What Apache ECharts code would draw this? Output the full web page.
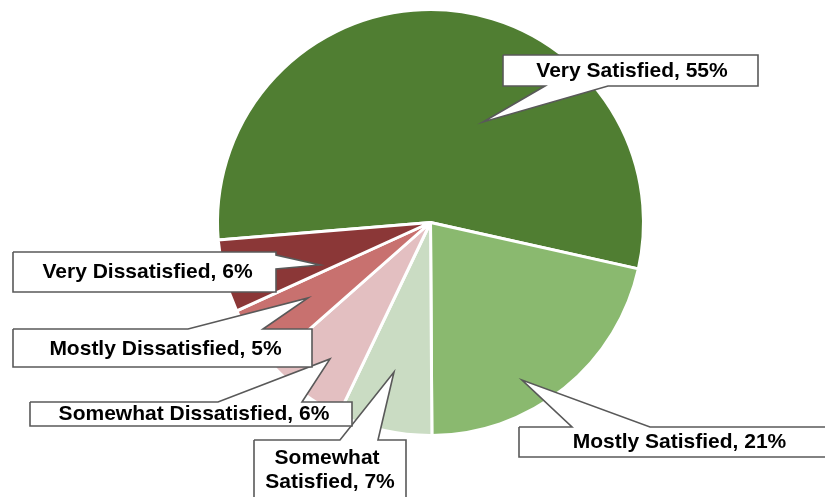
<!DOCTYPE html>
<html><head><meta charset="utf-8">
<script src="https://cdn.jsdelivr.net/npm/echarts@6/dist/echarts.min.js"></script>
<style>html,body{margin:0;padding:0;background:#fff}#c{width:825px;height:497px}</style>
</head><body><div id="c"></div>
<script>
// ---- data ----
const categories = ['Very Satisfied', 'Mostly Satisfied', 'Somewhat Satisfied', 'Somewhat Dissatisfied', 'Mostly Dissatisfied', 'Very Dissatisfied'];
const values = [54.8, 21.4, 7.2, 6.4, 4.7, 5.5];

// ---- styles ----
const colors = ['#507E32', '#8AB96F', '#CADCC3', '#E3BFC1', '#C8716F', '#8B3737'];
const wrapWidths = [null, null, 140, null, null, null];

// ---- callout annotation layout (px) ----
const callouts = [
  { text: [632, 71],    box: [503, 55, 758, 86],   side: 'bottom', base: [545, 608], tip: [483, 122] },
  { text: [679.5, 442], box: [519, 427, 842, 457], side: 'top',    base: [572, 650], tip: [522, 380] },
  { text: [330, 470],   box: [254, 440, 406, 502], side: 'top',    base: [340, 378], tip: [394, 372] },
  { text: [194, 414],   box: [30, 402, 352, 426],  side: 'top',    base: [218, 302], tip: [330, 359] },
  { text: [165.5, 349], box: [13, 329, 312, 367],  side: 'top',    base: [188, 263], tip: [308, 298] },
  { text: [147.5, 272], box: [13, 252, 276, 292],  side: 'right',  base: [255, 269], tip: [320, 265] }
];

function calloutPolygon(c) {
  const [x0, y0, x1, y1] = c.box, [b0, b1] = c.base, t = c.tip;
  const pts = [[x0, y0]];
  if (c.side === 'top') pts.push([b0, y0], t, [b1, y0]);
  pts.push([x1, y0]);
  if (c.side === 'right') pts.push([x1, b0], t, [x1, b1]);
  pts.push([x1, y1]);
  if (c.side === 'bottom') pts.push([b1, y1], t, [b0, y1]);
  pts.push([x0, y1], [x0, y0]);
  return pts;
}

const chart = echarts.init(document.getElementById('c'), null, { renderer: 'canvas' });
const option = {
  animation: false,
  backgroundColor: '#fff',
  series: [{
    type: 'pie',
    center: [430.5, 222.5],
    radius: 213,
    startAngle: 184.7,
    clockwise: true,
    avoidLabelOverlap: false,
    emphasis: { disabled: true },
    itemStyle: { borderColor: '#fff', borderWidth: 3 },
    label: {
      show: true,
      position: 'outside',
      formatter: p => p.name + ', ' + Math.round(p.value) + '%',
      fontFamily: '"Liberation Sans", Arial, sans-serif',
      fontSize: 21,
      fontWeight: 'bold',
      color: '#000',
      lineHeight: 24
    },
    labelLine: { show: true, showAbove: true, smooth: false, lineStyle: { color: '#595959', width: 1.6 } },
    labelLayout: function (params) {
      const c = callouts[params.dataIndex];
      return { x: c.text[0], y: c.text[1], align: 'center', verticalAlign: 'middle', labelLinePoints: calloutPolygon(c) };
    },
    data: categories.map((n, i) => {
      const item = { name: n, value: values[i], itemStyle: { color: colors[i] } };
      if (wrapWidths[i]) item.label = { width: wrapWidths[i], overflow: 'break', align: 'center' };
      return item;
    })
  }]
};
chart.setOption(option);

function fillCallouts() {
  try {
    const d = chart.getModel().getSeriesByIndex(0).getData();
    d.each(i => {
      const el = d.getItemGraphicEl(i);
      if (!el) return;
      const gl = el.getTextGuideLine && el.getTextGuideLine();
      const txt = el.getTextContent && el.getTextContent();
      if (gl) { gl.setStyle({ fill: '#fff' }); gl.z2 = 99; gl.markRedraw(); }
      if (txt) { txt.z2 = 100; txt.markRedraw(); }
    });
    chart.getZr().refresh();
  } catch (e) { console.error(e); }
}
fillCallouts();
chart.on('finished', fillCallouts);
</script>
</body></html>
